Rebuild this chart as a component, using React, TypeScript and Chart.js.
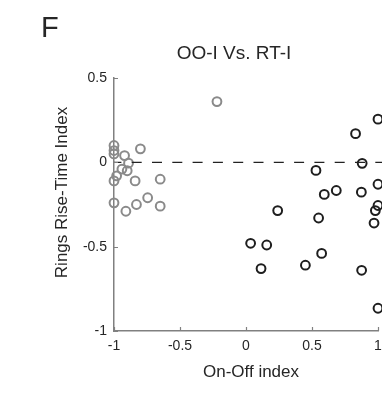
import React, { useEffect, useRef } from "react";
import { Chart, registerables } from "chart.js";

Chart.register(...registerables);

const panelLetter = "F";
const chartTitle = "OO-I Vs. RT-I";
const xAxisLabel = "On-Off index";
const yAxisLabel = "Rings Rise-Time Index";

const xTickValues = [-1, -0.5, 0, 0.5, 1];
const xTickLabels = ["-1", "-0.5", "0", "0.5", "1"];
const yTickValues = [-1, -0.5, 0, 0.5];
const yTickLabels = ["-1", "-0.5", "0", "0.5"];

const grayX = [-0.22, -1.0, -1.0, -1.0, -0.8, -0.92, -0.89, -0.94, -0.9, -0.98, -1.0, -0.84, -0.65, -1.0, -0.83, -0.745, -0.65, -0.91];
const grayY = [0.36, 0.1, 0.07, 0.05, 0.08, 0.04, -0.005, -0.04, -0.05, -0.08, -0.11, -0.11, -0.1, -0.24, -0.25, -0.21, -0.26, -0.29];

const blackX = [1.0, 0.83, 0.88, 0.53, 1.0, 0.684, 0.593, 0.874, 0.24, 1.0, 0.98, 0.97, 0.55, 0.035, 0.157, 0.573, 0.114, 0.45, 0.876, 1.0];
const blackY = [0.256, 0.17, -0.006, -0.048, -0.13, -0.167, -0.19, -0.177, -0.286, -0.256, -0.286, -0.36, -0.33, -0.48, -0.49, -0.54, -0.63, -0.61, -0.64, -0.865];

const refLineX = [-1, 1.05];
const refLineY = [0, 0];

const FONT = "'Liberation Sans', Arial, Helvetica, sans-serif";
const TEXT = "#262626";
const AXIS = "#808080";

const zip = (xs: number[], ys: number[]) => xs.map((x, i) => ({ x, y: ys[i] }));

const decorPlugin = {
  id: "decor",
  afterDraw(chart: any) {
    const ctx = chart.ctx;
    const xs = chart.scales.x;
    const ys = chart.scales.y;
    const area = chart.chartArea;
    ctx.save();
    // inward tick marks
    ctx.strokeStyle = AXIS;
    ctx.lineWidth = 1.2;
    ctx.beginPath();
    xTickValues.forEach((v) => {
      const px = Math.round(xs.getPixelForValue(v)) + 0.5;
      ctx.moveTo(px, area.bottom);
      ctx.lineTo(px, area.bottom - 4);
    });
    yTickValues.forEach((v) => {
      const py = Math.round(ys.getPixelForValue(v)) + 0.5;
      ctx.moveTo(area.left, py);
      ctx.lineTo(area.left + 4, py);
    });
    ctx.stroke();

    ctx.fillStyle = TEXT;
    ctx.textBaseline = "alphabetic";
    // panel letter
    ctx.font = `29px ${FONT}`;
    ctx.textAlign = "left";
    ctx.fillText(panelLetter, 41, 37);
    // title
    ctx.font = `19px ${FONT}`;
    ctx.textAlign = "center";
    ctx.fillText(chartTitle, 234, 59);
    // x label
    ctx.font = `17px ${FONT}`;
    ctx.fillText(xAxisLabel, 251, 377);
    // y label
    ctx.translate(67, 192.5);
    ctx.rotate(-Math.PI / 2);
    ctx.fillText(yAxisLabel, 0, 0);
    ctx.restore();
  },
};

export default function App() {
  const ref = useRef<HTMLCanvasElement | null>(null);
  useEffect(() => {
    if (!ref.current) return;
    const chart = new Chart(ref.current, {
      type: "scatter",
      data: {
        datasets: [
          {
            type: "line",
            data: zip(refLineX, refLineY),
            borderColor: "#222222",
            borderWidth: 1.2,
            borderDash: [10, 10.3],
            borderDashOffset: 2.6,
            pointRadius: 0,
            clip: false,
          } as any,
          {
            data: zip(grayX, grayY),
            pointRadius: 4.4,
            pointBorderWidth: 2,
            borderColor: "#8a8a8a",
            backgroundColor: "rgba(0,0,0,0)",
            clip: false,
          },
          {
            data: zip(blackX, blackY),
            pointRadius: 4.4,
            pointBorderWidth: 2,
            borderColor: "#1e1e1e",
            backgroundColor: "rgba(0,0,0,0)",
            clip: false,
          },
        ],
      },
      options: {
        responsive: false,
        animation: false,
        devicePixelRatio: 1,
        layout: { padding: { left: 0, top: 78, right: 42, bottom: 0 } },
        plugins: { legend: { display: false }, tooltip: { enabled: false }, title: { display: false } },
        scales: {
          x: {
            type: "linear",
            min: -1,
            max: 1,
            afterFit: (s: any) => {
              s.height = 63;
            },
            afterBuildTicks: (s: any) => {
              s.ticks = xTickValues.map((v) => ({ value: v }));
            },
            grid: { display: false, drawTicks: false },
            border: { display: true, color: AXIS, width: 1.5 },
            ticks: {
              padding: 7,
              color: TEXT,
              font: { family: FONT, size: 14 },
              maxRotation: 0,
              callback: (v: any) => {
                const i = xTickValues.indexOf(Number(v));
                return i >= 0 ? xTickLabels[i] : "";
              },
            },
          },
          y: {
            type: "linear",
            min: -1,
            max: 0.5,
            afterFit: (s: any) => {
              s.width = 114;
            },
            afterBuildTicks: (s: any) => {
              s.ticks = yTickValues.map((v) => ({ value: v }));
            },
            grid: { display: false, drawTicks: false },
            border: { display: true, color: AXIS, width: 1.5 },
            ticks: {
              padding: 7,
              color: TEXT,
              font: { family: FONT, size: 14 },
              callback: (v: any) => {
                const i = yTickValues.indexOf(Number(v));
                return i >= 0 ? yTickLabels[i] : "";
              },
            },
          },
        },
      } as any,
      plugins: [decorPlugin],
    });
    return () => chart.destroy();
  }, []);
  return (
    <div style={{ position: "absolute", left: 0, top: 0, width: 382, height: 394, overflow: "hidden", background: "#fff" }}>
      <canvas ref={ref} width={420} height={394} style={{ width: 420, height: 394, display: "block" }} />
    </div>
  );
}
